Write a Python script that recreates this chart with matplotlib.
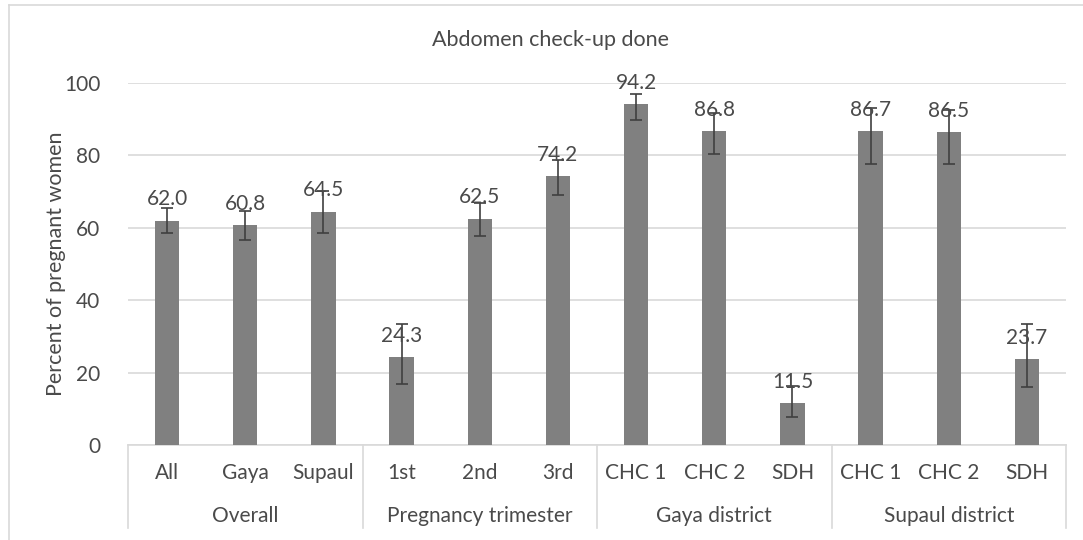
import matplotlib
matplotlib.use("Agg")
import matplotlib.pyplot as plt
from matplotlib.lines import Line2D
import numpy as np

plt.rcParams['font.family'] = ['Lato', 'DejaVu Sans']

title = "Abdomen check-up done"
ylabel = "Percent of pregnant women"
groups = ["Overall", "Pregnancy trimester", "Gaya district", "Supaul district"]
categories = ["All", "Gaya", "Supaul", "1st", "2nd", "3rd",
              "CHC 1", "CHC 2", "SDH", "CHC 1", "CHC 2", "SDH"]
values = [62.0, 60.8, 64.5, 24.3, 62.5, 74.2, 94.2, 86.8, 11.5, 86.7, 86.5, 23.7]
err_low = [3.3, 4.2, 5.8, 7.4, 4.9, 5.1, 4.4, 6.4, 3.7, 9.1, 8.9, 7.8]
err_high = [3.4, 3.9, 5.8, 9.1, 4.4, 4.5, 2.8, 4.8, 4.8, 6.3, 6.0, 9.7]

W, H = 1083, 540
fig = plt.figure(figsize=(W / 100, H / 100), dpi=100)
ax_l, ax_r, ax_b, ax_t = 128, 1066, 445, 83
ax = fig.add_axes([ax_l / W, 1 - ax_b / H, (ax_r - ax_l) / W, (ax_b - ax_t) / H])

txt = '#4a4a4a'
fs = 15
n = len(categories)
x = np.arange(n)
ax.bar(x, values, width=0.31, color='#808080', zorder=3)
ax.errorbar(x, values, yerr=[err_low, err_high], fmt='none', ecolor='#404040',
            elinewidth=1.2, capsize=4, capthick=1.2, zorder=4)
for xi, v in zip(x, values):
    ax.annotate(f"{v:.1f}", (xi, v), xytext=(0, 11), textcoords='offset points',
                ha='center', va='baseline', fontsize=fs, color=txt, zorder=5,
                annotation_clip=False)

ax.set_xlim(-0.5, n - 0.5)
ax.set_ylim(0, 100)
ax.set_yticks([0, 20, 40, 60, 80, 100])
ax.tick_params(axis='y', length=0, labelsize=fs, labelcolor=txt, pad=20)
ax.tick_params(axis='x', length=0, labelbottom=False)
ax.grid(axis='y', color='#D9D9D9', linewidth=1.2, zorder=0)
for s in ['top', 'right', 'left']:
    ax.spines[s].set_visible(False)
ax.spines['bottom'].set_color('#D9D9D9')
ax.spines['bottom'].set_linewidth(1.2)

def fx(px):
    return px / W

def fy(py):
    return 1 - py / H

# category labels
cw = (ax_r - ax_l) / n
for i, c in enumerate(categories):
    fig.text(fx(ax_l + cw * (i + 0.5)), fy(473), c, ha='center', va='center',
             fontsize=fs, color=txt)
gw = cw * 3
for g, name in enumerate(groups):
    fig.text(fx(ax_l + gw * (g + 0.5)), fy(516), name, ha='center', va='center',
             fontsize=fs, color=txt)
for g in range(len(groups) + 1):
    xp = fx(ax_l + gw * g)
    fig.add_artist(Line2D([xp, xp], [fy(ax_b), fy(528)], color='#D9D9D9', linewidth=1.2))

fig.text(fx(550), fy(40), title, ha='center', va='center', fontsize=15.5, color=txt)
fig.text(fx(56), fy(264), ylabel, ha='center', va='center', rotation=90,
         fontsize=15.5, color=txt)

# chart area border (cropped: left and top visible)
fig.add_artist(Line2D([fx(9), fx(9)], [fy(5), fy(540)], color='#D9D9D9', linewidth=1.2))
fig.add_artist(Line2D([fx(9), fx(1083)], [fy(5), fy(5)], color='#D9D9D9', linewidth=1.2))

fig.savefig("out.png", dpi=100)
